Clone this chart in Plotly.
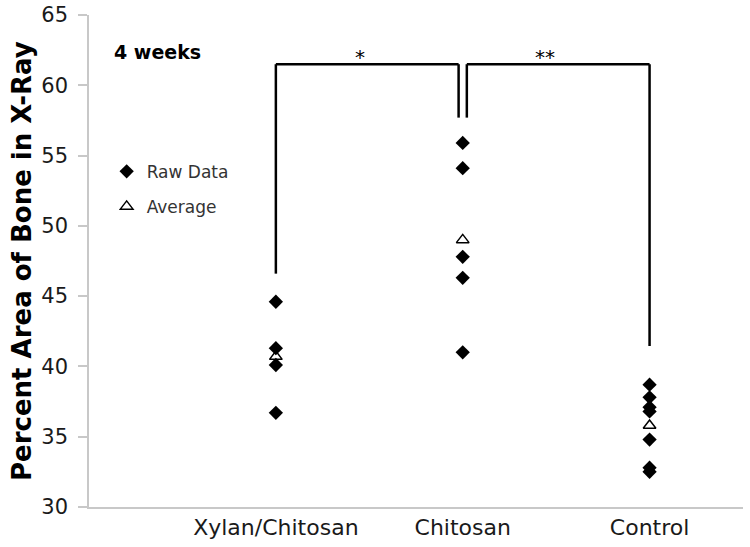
import plotly.graph_objects as go

categories = ["Xylan/Chitosan", "Chitosan", "Control"]
cat_x = [1, 2, 3]
raw_xylan = [44.6, 41.3, 40.1, 36.7]
raw_chitosan = [55.9, 54.1, 47.8, 46.3, 41.0]
raw_control = [38.7, 37.8, 37.1, 36.8, 34.8, 32.8, 32.5]
averages = [40.7, 49.0, 35.8]
y_ticks = [30, 35, 40, 45, 50, 55, 60, 65]

raw_groups = [raw_xylan, raw_chitosan, raw_control]
raw_x, raw_y = [], []
for cx, vals in zip(cat_x, raw_groups):
    raw_x += [cx] * len(vals)
    raw_y += vals

FONT = "DejaVu Sans"

fig = go.Figure()
fig.add_trace(go.Scatter(
    x=raw_x, y=raw_y, mode="markers", name="Raw Data", legendgroup="raw",
    marker=dict(symbol="diamond", size=11, color="black"),
))
fig.add_trace(go.Scatter(
    x=cat_x, y=averages, mode="markers", name="Average", legendgroup="avg",
    marker=dict(symbol="triangle-up-open", size=11, color="black",
                line=dict(width=1.5, color="black")),
))

# significance brackets
top = 61.5
lw = 2.5
brackets = [
    (1.0, 46.6, 1.0, top), (1.0, top, 1.978, top), (1.978, top, 1.978, 57.7),
    (2.022, 57.7, 2.022, top), (2.022, top, 3.0, top), (3.0, top, 3.0, 41.45),
]
for x0, y0, x1, y1 in brackets:
    fig.add_shape(type="line", x0=x0, y0=y0, x1=x1, y1=y1, xref="x", yref="y",
                  line=dict(color="black", width=lw))

fig.add_annotation(x=1.45, y=top, text="*", showarrow=False, yanchor="bottom",
                   font=dict(size=20, color="black", family=FONT), yshift=-7)
fig.add_annotation(x=2.44, y=top, text="**", showarrow=False, yanchor="bottom",
                   font=dict(size=20, color="black", family=FONT), yshift=-7)
fig.add_annotation(x=0.035, y=0.925, xref="paper", yref="paper", text="<b>4 weeks</b>",
                   showarrow=False, xanchor="left", yanchor="middle",
                   font=dict(size=19, color="black", family=FONT))
fig.add_annotation(x=-67 / 654, y=0.5, xref="paper", yref="paper",
                   text="<b>Percent Area of Bone in X-Ray</b>", textangle=-90,
                   showarrow=False, xanchor="center", yanchor="middle",
                   font=dict(size=26, color="black", family=FONT))

fig.update_layout(
    width=750, height=547,
    margin=dict(l=89, r=7, t=15, b=40),
    paper_bgcolor="white", plot_bgcolor="white",
    font=dict(family=FONT, color="#1a1a1a"),
    showlegend=True,
    legend=dict(x=0.027, y=0.718, xanchor="left", yanchor="top",
                font=dict(size=17, color="#333333", family=FONT),
                bgcolor="rgba(0,0,0,0)", tracegroupgap=10, itemwidth=30),
    xaxis=dict(range=[0, 3.5], tickvals=cat_x, ticktext=categories,
               showgrid=False, zeroline=False, showline=True, automargin=False,
               linecolor="#c8c8c8", linewidth=1.5, ticks="",
               tickfont=dict(size=22, color="#1a1a1a", family=FONT)),
    yaxis=dict(range=[30, 65], tickvals=y_ticks, showgrid=False, zeroline=False,
               showline=True, automargin=False, linecolor="#c8c8c8", linewidth=1.5,
               ticks="outside", ticklen=9, tickcolor="#c8c8c8", tickwidth=1.5,
               ticklabelstandoff=6,
               tickfont=dict(size=21, color="#1a1a1a", family=FONT)),
)

fig.write_html("out.html", config={"displayModeBar": False},
               post_script="document.body.style.margin='0';")
